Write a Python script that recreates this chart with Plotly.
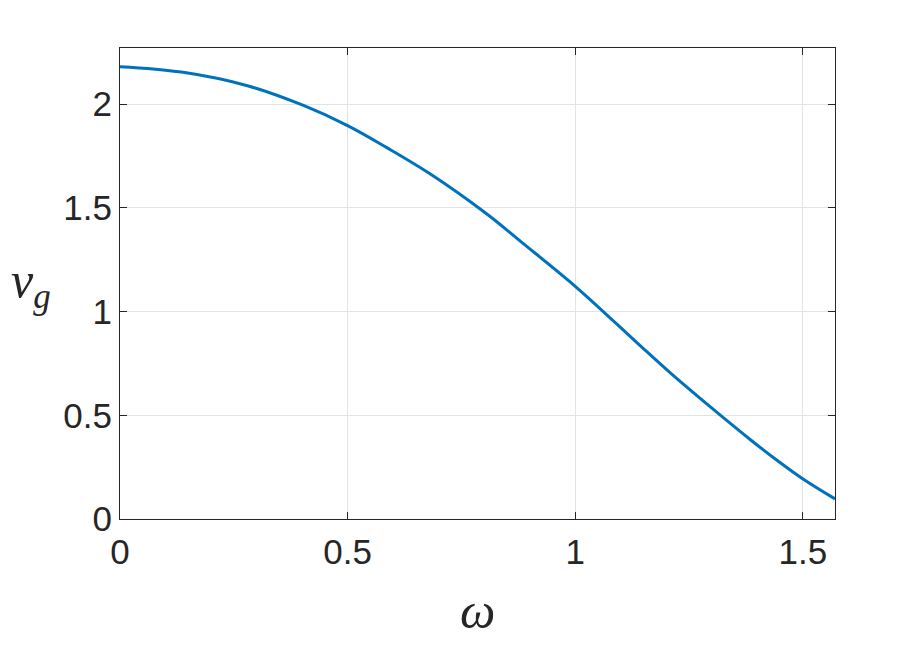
import plotly.graph_objects as go

omega = [0.0, 0.135, 0.282, 0.403, 0.5, 0.586, 0.681, 0.806, 0.880, 1.002,
         1.136, 1.209, 1.297, 1.385, 1.444, 1.503, 1.5708]
vg = [2.180, 2.154, 2.087, 1.993, 1.896, 1.790, 1.664, 1.470, 1.338, 1.118,
      0.849, 0.704, 0.540, 0.382, 0.282, 0.189, 0.097]

x_ticks = [0, 0.5, 1, 1.5]
x_tick_labels = ["0", "0.5", "1", "1.5"]
y_ticks = [0, 0.5, 1, 1.5, 2]
y_tick_labels = ["0", "0.5", "1", "1.5", "2"]

axis_col = "#262626"
grid_col = "#e3e3e3"
tick_font = dict(family="Liberation Sans, Arial, sans-serif", size=35, color=axis_col)

fig = go.Figure()
fig.add_trace(go.Scatter(
    x=omega, y=vg, mode="lines",
    line=dict(color="#0072bd", width=3, shape="spline", smoothing=1.0),
    showlegend=False, hoverinfo="skip"))

common = dict(showline=True, linecolor=axis_col, linewidth=1.3, mirror="ticks",
              ticks="inside", ticklen=7, tickwidth=1.3, tickcolor=axis_col,
              showgrid=True, gridcolor=grid_col, gridwidth=1, zeroline=False,
              tickfont=tick_font, automargin=False)

fig.update_xaxes(range=[0, 1.5708], tickvals=x_ticks, ticktext=x_tick_labels,
                 ticklabelstandoff=2, **common)
fig.update_yaxes(range=[0, 2.27], tickvals=y_ticks, ticktext=y_tick_labels,
                 ticklabelstandoff=0, **common)

label_font = dict(family="Liberation Serif, Times New Roman, serif", size=50, color=axis_col)
fig.add_annotation(text="<i>v</i><sub><i>g</i></sub>", xref="paper", yref="paper",
                   x=-0.155, y=0.5, xanchor="left", yanchor="middle",
                   showarrow=False, font=label_font)
fig.add_annotation(text="<i>ω</i>", xref="paper", yref="paper",
                   x=0.5, y=-0.195, xanchor="center", yanchor="middle",
                   showarrow=False, font=label_font)

# page body has an 8px margin, so the figure is sized to fit inside the window
fig.update_layout(width=915, height=642, paper_bgcolor="white", plot_bgcolor="white",
                  margin=dict(l=112, r=88, t=40, b=131))

fig.write_html("out.html")
